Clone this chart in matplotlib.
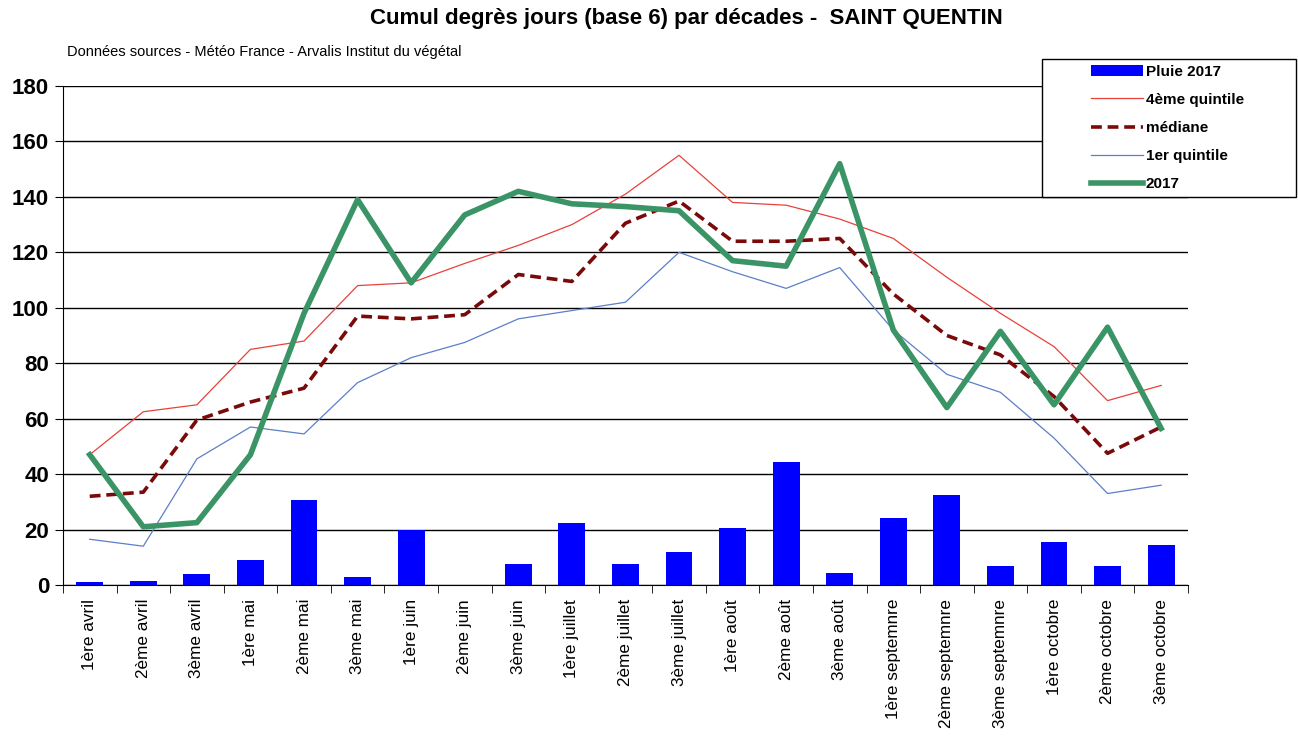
import matplotlib.pyplot as plt
from matplotlib.patches import Rectangle
import numpy as np

plt.rcParams["font.family"] = ["Liberation Sans", "DejaVu Sans"]

decades = ["1ère avril", "2ème avril", "3ème avril", "1ère mai", "2ème mai", "3ème mai",
           "1ère juin", "2ème juin", "3ème juin", "1ère juillet", "2ème juillet", "3ème juillet",
           "1ère août", "2ème août", "3ème août", "1ère septemnre", "2ème septemnre",
           "3ème septemnre", "1ère octobre", "2ème octobre", "3ème octobre"]
pluie_2017 = [1, 1.5, 4, 9, 30.5, 3, 20, 0, 7.5, 22.5, 7.5, 12, 20.5, 44.5, 4.5, 24, 32.5, 7, 15.5, 7, 14.5]
quintile_4 = [47, 62.5, 65, 85, 88, 108, 109, 116, 122.5, 130, 141, 155, 138, 137, 132, 125, 111, 98, 86, 66.5, 72]
mediane = [32, 33.5, 59.5, 66, 71, 97, 96, 97.5, 112, 109.5, 130.5, 138.5, 124, 124, 125, 105, 90, 83, 68, 47.5, 57]
quintile_1 = [16.5, 14, 45.5, 57, 54.5, 73, 82, 87.5, 96, 99, 102, 120, 113, 107, 114.5, 92, 76, 69.5, 53, 33, 36]
dj_2017 = [47, 21, 22.5, 47, 98, 139, 109, 133.5, 142, 137.5, 136.5, 135, 117, 115, 152, 92, 64, 91.5, 65, 93, 56.5]

x = np.arange(len(decades))

fig = plt.figure(figsize=(12.98, 7.53), dpi=100)
ax = fig.add_axes([0.0485, 0.2231, 0.8667, 0.6627])

ax.bar(x, pluie_2017, width=0.5, color="#0000FF", label="Pluie 2017", zorder=2)
ax.plot(x, quintile_4, color="#E8413A", lw=0.9, label="4ème quintile", zorder=3)
ax.plot(x, mediane, color="#7A0A0A", lw=2.6, ls=(0, (3, 1.6)), label="médiane", zorder=3)
ax.plot(x, quintile_1, color="#5B7FC8", lw=0.9, label="1er quintile", zorder=3)
ax.plot(x, dj_2017, color="#3A9466", lw=4, label="2017", zorder=4)

ax.set_xlim(-0.5, len(decades) - 0.5)
ax.set_ylim(0, 180)
ax.set_yticks(np.arange(0, 181, 20))
ax.yaxis.grid(True, color="black", lw=1)
ax.set_axisbelow(True)
for s in ["top", "right"]:
    ax.spines[s].set_visible(False)
ax.spines["left"].set_color("black")
ax.spines["bottom"].set_color("black")

ax.tick_params(axis="y", labelsize=16, length=6, color="black", pad=4)
for lbl in ax.get_yticklabels():
    lbl.set_fontweight("bold")

ax.set_xticks(x)
ax.set_xticklabels(decades, rotation=90, fontsize=12.3)
ax.tick_params(axis="x", length=0, pad=10)
ax.set_xticks(np.arange(-0.5, len(decades), 1), minor=True)
ax.tick_params(axis="x", which="minor", length=6, color="black")

fig.text(0.529, 0.976, "Cumul degrès jours (base 6) par décades -  SAINT QUENTIN",
         ha="center", va="center", fontsize=16, fontweight="bold")
fig.text(0.052, 0.931, "Données sources - Météo France - Arvalis Institut du végétal",
         ha="left", va="center", fontsize=10.5)

# legend box (white, covers the grid like the original)
fig.patches.append(Rectangle((1042 / 1298, 1 - 197 / 753), 254 / 1298, 138 / 753,
                             transform=fig.transFigure, facecolor="white",
                             edgecolor="black", lw=1, zorder=4))

handles, labels = ax.get_legend_handles_labels()
order = [4, 0, 1, 2, 3]
leg = fig.legend([handles[i] for i in order], [labels[i] for i in order],
                 loc="upper left", bbox_to_anchor=(1086 / 1298, 1 - 60 / 753),
                 frameon=False, handlelength=3.4, handletextpad=0.2, borderpad=0,
                 borderaxespad=0.3, labelspacing=0.93,
                 prop={"weight": "bold", "size": 11})
leg.set_zorder(5)

fig.savefig("out.png", dpi=100)
